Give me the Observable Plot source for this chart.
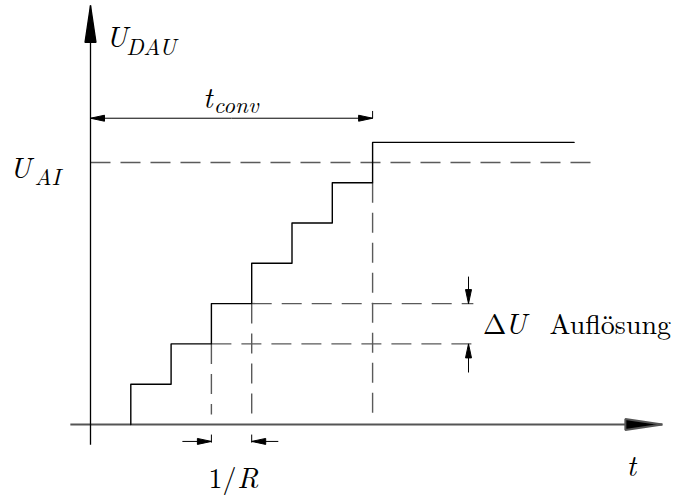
<!DOCTYPE html>
<html><head><meta charset="utf-8">
<script src="https://cdn.jsdelivr.net/npm/d3@7"></script>
<script src="https://cdn.jsdelivr.net/npm/@observablehq/plot@0.6"></script>
<style>body{margin:0;background:#fff}</style>
</head><body><div id="chart"></div>
<script>
// Units: time in clock periods (1/R), voltage in resolution steps (ΔU)
const clockTimes = [1, 2, 3, 4, 5, 6, 7];
const dauLevels  = [1, 2, 3, 4, 5, 6, 7];
const stepStart = 1;
const stepEnd = 12;
const uAI = 6.5;
const uAIEnd = 12.5;
const tConv = 7;
const tConvLevel = 7.6;
const resLevels = [2, 3];
const resDashStart = [3, 4];
const resDashEnd = 9.5;
const vDashTimes = [3, 4, 7];
const vDashTops = [2, 3, 6];
const vDashBottom = 0.25;
const deltaUArrowT = 9.38;
const deltaUArrowFrom = [1.29, 3.67];
const rClocks = [3, 4];
const rArrowFrom = [2.28, 4.66];
const rArrowLevel = -0.42;
const xAxisRange = [-0.5, 14.19];
const yAxisRange = [-0.5, 10.4];

const italicTexts = ["U", "DAU", "t", "conv", "U", "AI", "U", "R", "t"];
const italicX     = [0.38, 0.89, 2.79, 3.06, -2.01, -1.39, 10.28, 3.64, 13.3];
const italicY     = [9.355, 9.181, 7.866, 7.74, 6.129, 5.955, 2.258, -1.588, -1.29];
const italicSize  = [29, 23, 29, 23, 29, 23, 29, 29, 29];
const romanTexts = ["Δ", "Auflösung", "1/"];
const romanX     = [9.74, 11.39, 2.928];
const romanY     = [2.258, 2.258, -1.588];

const stepPts = [{t: stepStart, v: 0}, ...clockTimes.map((t, i) => ({t, v: dauLevels[i]})), {t: stepEnd, v: dauLevels[dauLevels.length - 1]}];
const hDash = [{x1: 0, x2: uAIEnd, y: uAI}, ...resLevels.map((v, i) => ({x1: resDashStart[i], x2: resDashEnd, y: v}))];
const vDash = vDashTimes.map((t, i) => ({x: t, y1: vDashTops[i], y2: vDashBottom}));
const italic = italicTexts.map((text, i) => ({text, x: italicX[i], y: italicY[i], size: italicSize[i]}));
const roman = romanTexts.map((text, i) => ({text, x: romanX[i], y: romanY[i]}));

function head(len, half) {
  return () => {
    const m = d3.create("svg:marker")
      .attr("viewBox", `${-len} ${-half} ${len + 1} ${2 * half}`)
      .attr("markerWidth", len + 1).attr("markerHeight", 2 * half)
      .attr("markerUnits", "userSpaceOnUse")
      .attr("refX", 0).attr("refY", 0)
      .attr("orient", "auto")
      .attr("overflow", "visible");
    m.append("path").attr("d", `M0,0L${-len},${-half}L${-len},${half}Z`).attr("fill", "#000");
    return m.node();
  };
}
const bigHead = head(37, 5.5);
const smallHead = head(14, 3);

const FONT = "'Latin Modern Roman', 'Liberation Serif', serif";
const px = 40.3;
const chart = Plot.plot({
  width: 680, height: 495, margin: 0,
  x: {domain: [-90 / px, 590 / px], axis: null},
  y: {domain: [-71 / px, 424 / px], axis: null},
  style: {background: "white", overflow: "visible"},
  marks: [
    Plot.link(hDash, {x1: "x1", x2: "x2", y1: "y", y2: "y", stroke: "#5a5a5a", strokeWidth: 1.4, strokeDasharray: "20,10"}),
    Plot.link(vDash, {x1: "x", x2: "x", y1: "y1", y2: "y2", stroke: "#5a5a5a", strokeWidth: 1.4, strokeDasharray: "20,10"}),
    Plot.link([{x1: xAxisRange[0], x2: xAxisRange[1], y: 0}], {x1: "x1", x2: "x2", y1: "y", y2: "y", stroke: "#555", strokeWidth: 2, markerEnd: bigHead}),
    Plot.link([{x: 0, y1: yAxisRange[0], y2: yAxisRange[1]}], {x1: "x", x2: "x", y1: "y1", y2: "y2", stroke: "#000", strokeWidth: 1.3, markerEnd: bigHead}),
    Plot.line(stepPts, {x: "t", y: "v", curve: "step-after", stroke: "#000", strokeWidth: 1.4}),
    Plot.link([{a: tConv / 2, b: 0}, {a: tConv / 2, b: tConv}], {x1: "a", x2: "b", y1: () => tConvLevel, y2: () => tConvLevel, stroke: "#000", strokeWidth: 1, markerEnd: smallHead}),
    Plot.link([{x: tConv}], {x1: "x", x2: "x", y1: () => tConvLevel, y2: () => tConvLevel + 0.18, stroke: "#000", strokeWidth: 1}),
    Plot.link(resLevels.map((v, i) => ({from: deltaUArrowFrom[i], to: v})), {x1: () => deltaUArrowT, x2: () => deltaUArrowT, y1: "from", y2: "to", stroke: "#000", strokeWidth: 1, markerEnd: smallHead}),
    Plot.link(rClocks.map((t, i) => ({from: rArrowFrom[i], to: t})), {x1: "from", x2: "to", y1: () => rArrowLevel, y2: () => rArrowLevel, stroke: "#000", strokeWidth: 1, markerEnd: smallHead}),
    Plot.link(rClocks.map(t => ({t})), {x1: "t", x2: "t", y1: () => rArrowLevel + 0.17, y2: () => rArrowLevel - 0.03, stroke: "#000", strokeWidth: 1}),
    Plot.text(italic, {x: "x", y: "y", text: "text", fontSize: "size", fontStyle: "italic", fontFamily: FONT, textAnchor: "start", lineAnchor: "bottom", fill: "#000"}),
    Plot.text(roman, {x: "x", y: "y", text: "text", fontSize: 28, fontFamily: FONT, textAnchor: "start", lineAnchor: "bottom", fill: "#000"})
  ]
});
d3.select(chart).selectAll("text").style("font-family", FONT);
document.getElementById("chart").appendChild(chart);
</script>
</body></html>
